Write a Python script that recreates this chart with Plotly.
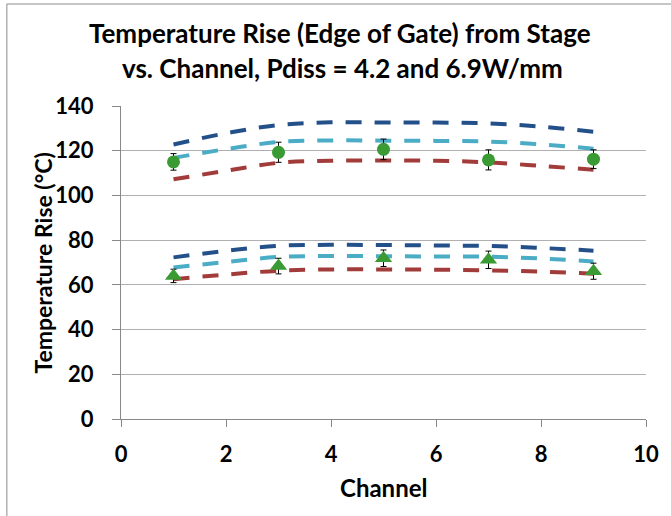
import plotly.graph_objects as go

channels = [1, 2, 3, 4, 5, 6, 7, 8, 9]
# Model curves, Pdiss = 6.9 W/mm
hi_dark = [122.8, 127.8, 131.5, 132.7, 132.6, 132.6, 132.2, 130.8, 128.5]
hi_light = [116.8, 120.7, 123.9, 124.6, 124.5, 124.4, 124.1, 122.8, 120.9]
hi_red = [107.2, 111.0, 114.6, 115.5, 115.6, 115.5, 114.8, 113.2, 111.5]
# Model curves, Pdiss = 4.2 W/mm
lo_dark = [72.3, 75.2, 77.5, 77.9, 77.8, 77.6, 77.4, 76.5, 75.3]
lo_light = [67.8, 70.2, 72.5, 72.9, 72.8, 72.7, 72.6, 71.8, 70.5]
lo_red = [62.5, 64.6, 66.3, 66.9, 66.9, 66.8, 66.5, 65.9, 65.0]

meas_channels = [1, 3, 5, 7, 9]
meas_hi = [115.0, 119.3, 120.6, 115.9, 116.2]
meas_hi_err = [3.7, 4.5, 4.6, 4.5, 4.2]
meas_lo = [64.0, 68.4, 71.9, 71.2, 66.1]
meas_lo_err = [3.0, 3.5, 3.7, 3.9, 3.6]

x_ticks = [0, 2, 4, 6, 8, 10]
y_ticks = [0, 20, 40, 60, 80, 100, 120, 140]

DARK = "#24508A"
LIGHT = "#4BACC6"
RED = "#A23C3A"
GREEN = "#3A9A33"
FONT = "Lato"

fig = go.Figure()

for ys, col in [(hi_dark, DARK), (hi_light, LIGHT), (hi_red, RED),
                (lo_dark, DARK), (lo_light, LIGHT), (lo_red, RED)]:
    fig.add_trace(go.Scatter(
        x=channels, y=ys, mode="lines",
        line=dict(color=col, width=4, dash="16px,13px", shape="spline", smoothing=1),
        showlegend=False, hoverinfo="skip"))

fig.add_trace(go.Scatter(
    x=meas_channels, y=meas_hi, mode="markers",
    marker=dict(symbol="circle", size=13, color=GREEN),
    error_y=dict(type="data", array=meas_hi_err, color="black", thickness=1, width=3),
    showlegend=False))
fig.add_trace(go.Scatter(
    x=meas_channels, y=meas_lo, mode="markers",
    marker=dict(symbol="triangle-up", size=15, color=GREEN),
    error_y=dict(type="data", array=meas_lo_err, color="black", thickness=1, width=3),
    showlegend=False))

L, R, T, B = 121, 21, 106, 97
W, H = 671, 516
ph = H - T - B
pw = W - L - R

def py(pix):
    return (H - B - pix) / ph

def px(pix):
    return (pix - L) / pw

annos = [
    dict(text="<b>Temperature Rise (Edge of Gate) from Stage</b>", x=px(342), y=py(33), size=26),
    dict(text="<b>vs. Channel, Pdiss = 4.2 and 6.9W/mm</b>", x=px(344), y=py(68.5), size=26),
    dict(text="<b>Channel</b>", x=px(385), y=py(487), size=24),
    dict(text="<b>Temperature Rise (°C)</b>", x=px(42), y=py(263), textangle=-90, size=23),
]
annotations = []
for a in annos:
    size = a.pop("size")
    d = dict(xref="paper", yref="paper", xanchor="center", yanchor="middle",
             showarrow=False, font=dict(family=FONT, size=size, color="black"))
    d.update(a)
    annotations.append(d)

fig.update_layout(
    width=W, height=H,
    margin=dict(l=L, r=R, t=T, b=B),
    paper_bgcolor="white", plot_bgcolor="white",
    font=dict(family=FONT, size=22, color="black"),
    annotations=annotations,
    shapes=[
        dict(type="line", xref="paper", yref="paper", x0=px(6), x1=px(700), y0=py(4), y1=py(4),
             line=dict(color="#8C8C8C", width=1)),
        dict(type="line", xref="paper", yref="paper", x0=px(6), x1=px(6), y0=py(4), y1=py(540),
             line=dict(color="#8C8C8C", width=1)),
    ],
    xaxis=dict(range=[0, 10], tickvals=x_ticks, ticktext=[f"<b>{v}</b>" for v in x_ticks],
               showgrid=False, zeroline=False, showline=True, linecolor="#888888", linewidth=1,
               ticks="outside", ticklen=7, tickcolor="#888888", ticklabelstandoff=9,
               tickfont=dict(family=FONT, size=22, color="black")),
    yaxis=dict(range=[0, 140], tickvals=y_ticks, ticktext=[f"<b>{v}</b>" for v in y_ticks],
               showgrid=True, gridcolor="#B0B0B0", gridwidth=1, zeroline=False,
               showline=True, linecolor="#888888", linewidth=1,
               ticks="outside", ticklen=8, tickcolor="#888888", ticklabelstandoff=14,
               tickfont=dict(family=FONT, size=22, color="black")),
)

fig.write_html("out.html")
